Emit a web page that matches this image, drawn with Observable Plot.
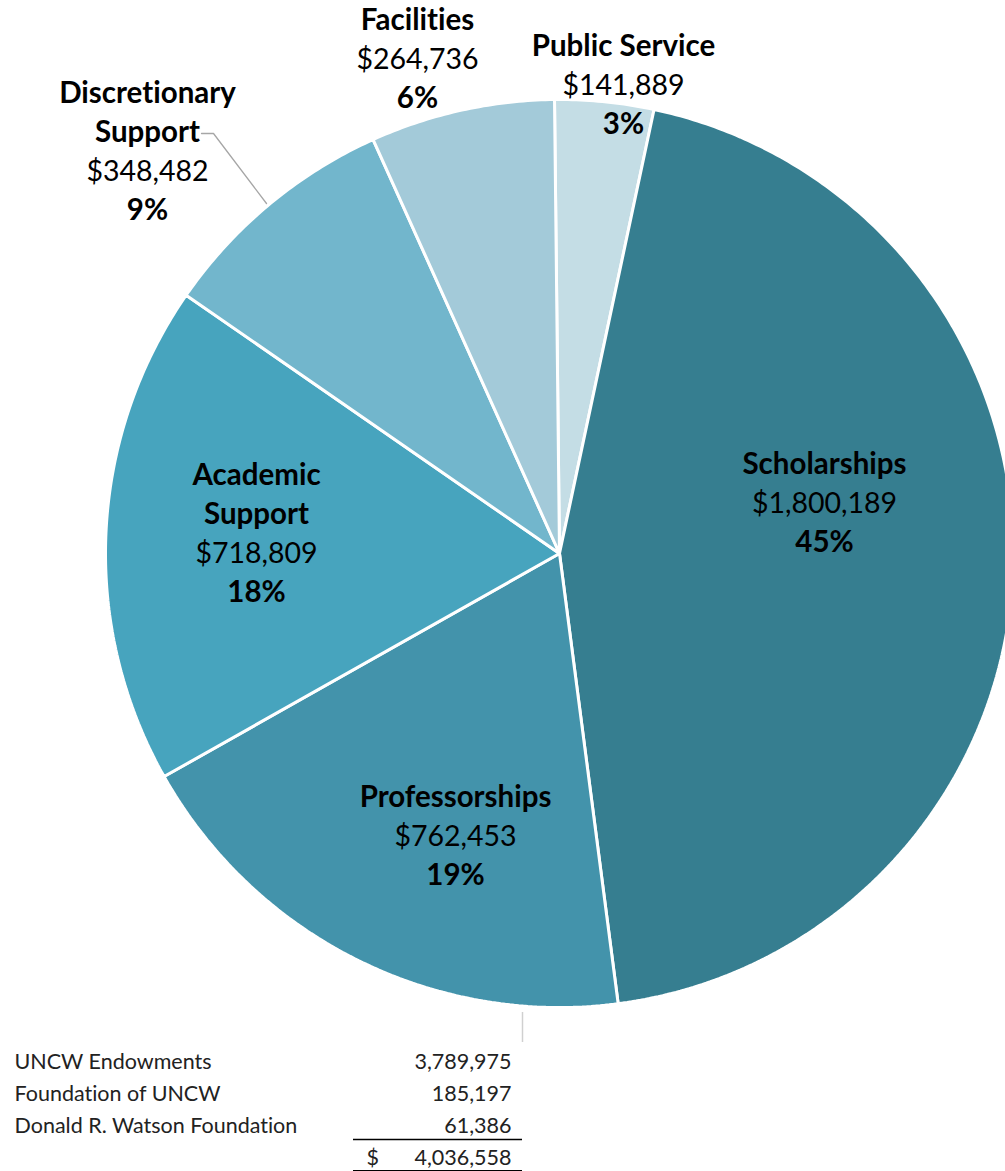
<!DOCTYPE html>
<html>
<head>
<meta charset="utf-8">
<script src="https://cdn.jsdelivr.net/npm/d3@7"></script>
<script src="https://cdn.jsdelivr.net/npm/@observablehq/plot@0.6"></script>
<style>
  html, body { margin: 0; padding: 0; background: #fff; }
  svg { display: block; }
  svg text { font-variant-ligatures: none; font-feature-settings: "liga" 0; }
</style>
</head>
<body>
<div id="chart"></div>
<script>
// ---- data ----
const categories = ["Public Service", "Scholarships", "Professorships", "Academic Support", "Discretionary Support", "Facilities"];
const amounts = [141889, 1800189, 762453, 718809, 348482, 264736];
const percentLabels = ["3%", "45%", "19%", "18%", "9%", "6%"];
const nameLines = [["Public Service"], ["Scholarships"], ["Professorships"], ["Academic", "Support"], ["Discretionary", "Support"], ["Facilities"]];
const sources = ["UNCW Endowments", "Foundation of UNCW", "Donald R. Watson Foundation"];
const sourceAmounts = [3789975, 185197, 61386];
const totalAmount = 4036558;

// ---- layout / style ----
const W = 1005, H = 1171;
const cx = 559, cy = 553, R = 454;
const rotation = -0.011;
const colors = ["#c4dde5", "#367e90", "#4393ab", "#47a4be", "#72b6cc", "#a3cad9"];
const font = "Lato, 'Open Sans', sans-serif";
const lineH = 39;
// label anchor: [x, y of first line]
const labelPos = {
  "Public Service": [623, 46],
  "Scholarships": [824, 464],
  "Professorships": [455, 797],
  "Academic Support": [256, 475],
  "Discretionary Support": [147, 93],
  "Facilities": [417, 20]
};

const fmt = d3.format(",");

// pie geometry from data
const arcs = d3.pie().sort(null).startAngle(rotation).endAngle(rotation + 2 * Math.PI).value(d => d)(amounts);
const polys = [];
arcs.forEach((a, i) => {
  const name = categories[i];
  const n = Math.max(4, Math.ceil((a.endAngle - a.startAngle) / 0.01));
  polys.push({name, x: cx, y: cy});
  for (let k = 0; k <= n; k++) {
    const t = a.startAngle + (a.endAngle - a.startAngle) * k / n;
    polys.push({name, x: cx + R * Math.sin(t), y: cy - R * Math.cos(t)});
  }
  polys.push({name, x: cx, y: cy});
});

// label text rows
const labelRows = [];
categories.forEach((name, i) => {
  const [lx, ly] = labelPos[name];
  let row = 0;
  nameLines[i].forEach(t => labelRows.push({x: lx, y: ly + lineH * row++, text: t, bold: true}));
  labelRows.push({x: lx, y: ly + lineH * row++, text: "$" + fmt(amounts[i]), bold: false});
  labelRows.push({x: lx, y: ly + lineH * row++, text: percentLabels[i], bold: true});
});

// leader line for Discretionary Support
const leader = [{x: 201, y: 133}, {x: 213, y: 133}, {x: 266, y: 203}];

// table rows
const tableRows = sources.map((s, i) => ({name: s, value: fmt(sourceAmounts[i]), y: 1062 + 32 * i}));

const chart = Plot.plot({
  width: W,
  height: H,
  margin: 0,
  x: {domain: [0, W], range: [0, W], axis: null},
  y: {domain: [0, H], range: [0, H], axis: null},
  color: {domain: categories, range: colors},
  style: {fontFamily: font, background: "#fff", overflow: "hidden"},
  marks: [
    Plot.line(polys, {x: "x", y: "y", z: "name", fill: "name", stroke: "#fff", strokeWidth: 3, strokeLinejoin: "miter", curve: "linear"}),
    Plot.line(leader, {x: "x", y: "y", stroke: "#a6a6a6", strokeWidth: 1.3}),
    Plot.text(labelRows.filter(d => d.bold), {x: "x", y: "y", text: "text", fontSize: 29.5, fontWeight: "bold", fill: "#000", textAnchor: "middle", lineAnchor: "middle"}),
    Plot.text(labelRows.filter(d => !d.bold), {x: "x", y: "y", text: "text", fontSize: 28.5, fill: "#000", textAnchor: "middle", lineAnchor: "middle"}),
    // table
    Plot.ruleX([522], {y1: 1012, y2: 1042, stroke: "#d0d0d0", strokeWidth: 1.5}),
    Plot.text(tableRows, {x: 14, y: "y", text: "name", fontSize: 21.5, fill: "#222", textAnchor: "start", lineAnchor: "middle"}),
    Plot.text(tableRows, {x: 511, y: "y", text: "value", fontSize: 21.5, fill: "#222", textAnchor: "end", lineAnchor: "middle"}),
    Plot.ruleY([1139], {x1: 353, x2: 522, stroke: "#000", strokeWidth: 1.3}),
    Plot.text([{t: "$"}], {x: 366, y: 1158, text: "t", fontSize: 21.5, fill: "#222", textAnchor: "start", lineAnchor: "middle"}),
    Plot.text([{t: fmt(totalAmount)}], {x: 511, y: 1158, text: "t", fontSize: 21.5, fill: "#222", textAnchor: "end", lineAnchor: "middle"}),
    Plot.ruleY([1170], {x1: 353, x2: 522, stroke: "#000", strokeWidth: 1})
  ]
});
document.getElementById("chart").appendChild(chart);
</script>
</body>
</html>
